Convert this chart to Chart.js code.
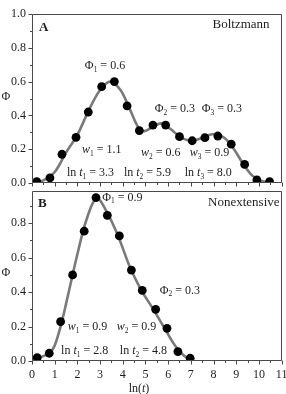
<!DOCTYPE html>
<html><head><meta charset="utf-8">
<script src="https://cdn.jsdelivr.net/npm/chart.js@4"></script>
<style>
html,body{margin:0;padding:0;background:#fff;width:286px;height:394px;overflow:hidden}
canvas{position:absolute;left:0}
#c1{top:0}
#c2{top:180px}
</style></head><body>
<canvas id="c1" width="286" height="190"></canvas>
<canvas id="c2" width="286" height="214"></canvas>
<script>
// ---------- data ----------
const xTickValues = [0,1,2,3,4,5,6,7,8,9,10,11];
const yTickValuesTop = [0,0.2,0.4,0.6,0.8,1.0];
const yTickValuesBottom = [0,0.2,0.4,0.6,0.8];

// Panel A (Boltzmann) - measured points
const boltzPointX = [0.21,0.79,1.32,1.94,2.48,3.07,3.63,4.19,4.73,5.33,5.89,6.50,7.06,7.62,8.19,8.78,9.37,9.91,10.47];
const boltzPointY = [0.008,0.03,0.17,0.27,0.42,0.57,0.60,0.456,0.31,0.343,0.343,0.274,0.25,0.268,0.278,0.23,0.11,0.018,0.008];
// Panel A fit curve
const boltzCurveX = [0.1,0.5,1.0,1.5,2.0,2.5,3.0,3.45,3.9,4.3,4.7,4.95,5.3,5.7,6.1,6.5,6.9,7.3,7.7,8.1,8.5,8.9,9.3,9.7,10.1,10.5];
const boltzCurveY = [0.003,0.015,0.065,0.18,0.285,0.43,0.55,0.60,0.55,0.44,0.325,0.307,0.33,0.353,0.32,0.275,0.252,0.258,0.28,0.29,0.265,0.20,0.115,0.045,0.012,0.004];

// Panel B (Nonextensive) - measured points
const nonextPointX = [0.23,0.76,1.26,1.79,2.30,2.82,3.32,3.85,4.38,4.86,5.45,5.95,6.43,6.97];
const nonextPointY = [0.019,0.045,0.228,0.50,0.754,0.949,0.846,0.726,0.528,0.41,0.30,0.19,0.054,0.016];
// Panel B fit curve
const nonextCurveX = [0.1,0.5,0.8,1.0,1.3,1.6,2.0,2.4,2.85,3.3,3.8,4.3,4.8,5.3,5.8,6.3,6.7,7.0];
const nonextCurveY = [0.008,0.028,0.05,0.09,0.22,0.39,0.62,0.82,0.945,0.865,0.725,0.55,0.415,0.31,0.20,0.09,0.03,0.008];

// annotation texts (data coordinates)
const topLabels = [
  {text:'A', x:0.31, y:0.92, bold:true, size:13},
  {text:'Boltzmann', x:10.47, y:0.94, align:'right', size:13},
  {text:'Φ_1 = 0.6', x:2.33, y:0.692},
  {text:'Φ_2 = 0.3', x:5.41, y:0.438},
  {text:'Φ_3 = 0.3', x:7.48, y:0.438},
  {text:'*w*_1 = 1.1', x:2.2, y:0.195},
  {text:'*w*_2 = 0.6', x:4.8, y:0.178},
  {text:'*w*_3 = 0.9', x:6.95, y:0.178},
  {text:'ln *t*_1 = 3.3', x:1.54, y:0.059},
  {text:'ln *t*_2 = 5.9', x:4.05, y:0.059},
  {text:'ln *t*_3 = 8.0', x:6.73, y:0.059}
];
const bottomLabels = [
  {text:'B', x:0.26, y:0.916, bold:true, size:13},
  {text:'Nonextensive', x:10.91, y:0.922, align:'right', size:13},
  {text:'Φ_1 = 0.9', x:3.1, y:0.949},
  {text:'Φ_2 = 0.3', x:5.63, y:0.41},
  {text:'*w*_1 = 0.9', x:1.58, y:0.197},
  {text:'*w*_2 = 0.9', x:3.74, y:0.197},
  {text:'ln *t*_1 = 2.8', x:1.28, y:0.058},
  {text:'ln *t*_2 = 4.8', x:3.87, y:0.058}
];

// ---------- drawing helpers ----------
const SERIF = '"Liberation Serif","Times New Roman",serif';
const INK = '#1e1e1e';
function parseRich(str){
  const segs=[]; let it=false; let i=0; let buf='';
  const flush=()=>{ if(buf){segs.push({t:buf,it}); buf='';} };
  while(i<str.length){
    const c=str[i];
    if(c==='*'){ flush(); it=!it; i++; continue; }
    if(c==='_'){ flush(); segs.push({t:str[i+1],sub:true,it:false}); i+=2; continue; }
    buf+=c; i++;
  }
  flush(); return segs;
}
function drawRich(ctx,x,y,str,size,align,bold){
  const segs=parseRich(str);
  let total=0;
  const parts=segs.map(s=>{
    const sz=s.sub?size*0.62:size;
    const font=(s.it?'italic ':'')+(bold?'bold ':'')+sz+'px '+SERIF;
    ctx.font=font;
    const w=ctx.measureText(s.t).width;
    total+=w; return {s,font,w};
  });
  let cx = align==='right'? x-total : align==='center'? x-total/2 : x;
  ctx.textBaseline='middle'; ctx.textAlign='left'; ctx.fillStyle=INK;
  parts.forEach(p=>{ctx.font=p.font; ctx.fillText(p.s.t,cx,y+(p.s.sub?size*0.32:0)); cx+=p.w;});
}

function framePlugin(labels, yTitleY, xTitle){
  return {
    id:'frame',
    afterDraw(chart){
      const ctx=chart.ctx, a=chart.chartArea, xs=chart.scales.x, ys=chart.scales.y;
      ctx.save();
      ctx.strokeStyle='#4a4a4a'; ctx.lineWidth=1;
      const L=Math.round(a.left)+0.5, R=Math.round(a.right)-0.5, T=Math.round(a.top)+0.5, B=Math.round(a.bottom)-0.5;
      ctx.beginPath();
      ctx.moveTo(L,T); ctx.lineTo(R,T); ctx.lineTo(R,B); ctx.lineTo(L,B); ctx.closePath(); ctx.stroke();
      // x ticks (outward, bottom)
      ctx.beginPath();
      xTickValues.forEach((v,i)=>{
        const px=Math.round(xs.getPixelForValue(v))+0.5;
        ctx.moveTo(px,B); ctx.lineTo(px,B+4);
        if(i<xTickValues.length-1){
          const pm=Math.round(xs.getPixelForValue((v+xTickValues[i+1])/2))+0.5;
          ctx.moveTo(pm,B); ctx.lineTo(pm,B+2.5);
        }
      });
      // y ticks (outward, left)
      const yt=chart.options.scales.y._majors;
      const ymax=chart.options.scales.y.max;
      yt.forEach((v,i)=>{
        const py=Math.round(ys.getPixelForValue(v))+0.5;
        ctx.moveTo(L,py); ctx.lineTo(L-4,py);
        const vm=v+0.1;
        if(vm<ymax){
          const pm=Math.round(ys.getPixelForValue(vm))+0.5;
          ctx.moveTo(L,pm); ctx.lineTo(L-2.5,pm);
        }
      });
      ctx.stroke();
      // annotations
      labels.forEach(l=>{
        drawRich(ctx, xs.getPixelForValue(l.x), ys.getPixelForValue(l.y), l.text, l.size||12, l.align||'left', l.bold);
      });
      // y title
      drawRich(ctx, 6, yTitleY, 'Φ', 12, 'center');
      if(xTitle){ drawRich(ctx, xTitle.x, xTitle.y, 'ln(*t*)', 12, 'center'); }
      ctx.restore();
    }
  };
}

function makeChart(id, px, py, cx, cy, yMax, yTicks, opts){
  return new Chart(document.getElementById(id), {
    type:'scatter',
    data:{datasets:[
      {data:px.map((x,i)=>({x,y:py[i]})), pointRadius:4.4, pointBackgroundColor:'#000', pointBorderWidth:0, showLine:false},
      {data:cx.map((x,i)=>({x,y:cy[i]})), showLine:true, pointRadius:0, borderColor:'#7a7a7a', borderWidth:2.6, tension:0.35, fill:false}
    ]},
    options:{
      responsive:false, animation:false, devicePixelRatio:1,
      layout:{padding:{left:0,right:4,top:opts.padTop,bottom:0}},
      plugins:{legend:{display:false}, tooltip:{enabled:false}},
      scales:{
        x:{type:'linear', min:0, max:11,
           grid:{display:false, drawTicks:false}, border:{display:false},
           ticks:{display:opts.showX, padding:7, color:INK, font:{family:SERIF,size:12}},
           afterBuildTicks(s){ s.ticks=xTickValues.map(v=>({value:v})); },
           afterFit(s){ s.height=opts.xH; s.paddingLeft=0; s.paddingRight=0; }
        },
        y:{type:'linear', min:0, max:yMax, _majors:yTicks,
           grid:{display:false, drawTicks:false}, border:{display:false},
           ticks:{padding:6, color:INK, font:{family:SERIF,size:12}, callback:v=>v.toFixed(1)},
           afterBuildTicks(s){ s.ticks=yTicks.map(v=>({value:v})); },
           afterFit(s){ s.width=32; s.paddingTop=0; s.paddingBottom=0; }
        }
      }
    },
    plugins:[framePlugin(opts.labels, opts.yTitleY, opts.xTitle)]
  });
}

makeChart('c1', boltzPointX, boltzPointY, boltzCurveX, boltzCurveY, 1.0, yTickValuesTop,
  {padTop:14, xH:7, showX:false, labels:topLabels, yTitleY:97});
makeChart('c2', nonextPointX, nonextPointY, nonextCurveX, nonextCurveY, 0.99, yTickValuesBottom,
  {padTop:10.5, xH:33, showX:true, labels:bottomLabels, yTitleY:93, xTitle:{x:139, y:209}});
</script>
</body></html>
